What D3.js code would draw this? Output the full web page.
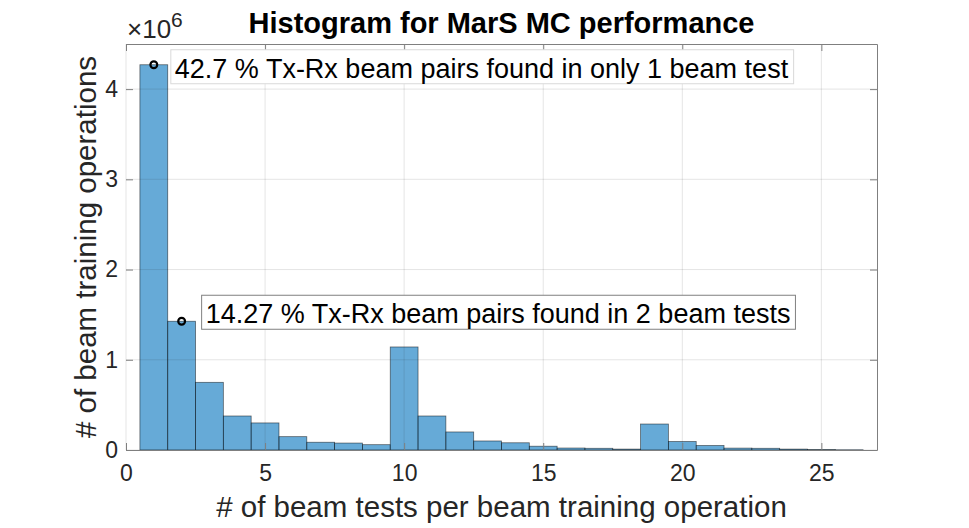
<!DOCTYPE html>
<html lang="en">
<head>
    <meta charset="UTF-8">
    <title>Histogram for MarS MC performance</title>
    <script src="https://d3js.org/d3.v7.min.js"></script>
    <style>
        body {
            margin: 0;
            background-color: white;
            font-family: "Liberation Sans", Arial, sans-serif;
        }
    </style>
</head>
<body>
    <script>
        // bin centres (beam tests per operation) and counts
        var bins = [1, 2, 3, 4, 5, 6, 7, 8, 9, 10, 11, 12, 13, 14, 15, 16, 17, 18, 19, 20, 21, 22, 23, 24, 25, 26]
        var counts = [4270000, 1427000, 750000, 377000, 300000, 148000, 86000, 77000, 59000, 1142000,
                      377000, 200000, 100000, 80000, 42000, 22000, 19000, 10000, 288000, 94000,
                      50000, 21000, 19000, 10000, 5000, 2500]
        var xTicks = [0, 5, 10, 15, 20, 25]
        var yTicks = [0, 1, 2, 3, 4]
        var noteBins = [1, 2]
        var noteTexts = ["42.7 % Tx-Rx beam pairs found in only 1 beam test",
                         "14.27 % Tx-Rx beam pairs found in 2 beam tests"]

        var width = 969
        var height = 528
        var margin = {left: 126, right: 92, top: 44, bottom: 78}
        var axisColor = "#262626"
        // where each text box sits relative to its marker
        var noteOffsets = [{dx: 21, dy: 13, border: "#d9d9d9"}, {dx: 24, dy: 2, border: "#808080"}]

        const svg = d3.select("body")
            .append("svg")
            .attr("width", width)
            .attr("height", height)

        var x = d3.scaleLinear().domain([0, 27]).range([margin.left, width - margin.right])
        var y = d3.scaleLinear().domain([0, 4.5e6]).range([height - margin.bottom, margin.top])

        // bars
        svg.selectAll(".bar")
            .data(bins)
            .enter().append("rect")
            .attr("class", "bar")
            .attr("x", function (d) { return x(d - 0.5) })
            .attr("width", function (d) { return x(d + 0.5) - x(d - 0.5) })
            .attr("y", function (d, i) { return y(counts[i]) })
            .attr("height", function (d, i) { return y(0) - y(counts[i]) })
            .attr("fill", "#0072BD")
            .attr("fill-opacity", 0.6)
            .attr("stroke", "#000")
            .attr("stroke-opacity", 0.55)
            .attr("stroke-width", 0.8)

        // grid
        svg.selectAll(".gx")
            .data(xTicks)
            .enter().append("line")
            .attr("x1", function (d) { return x(d) })
            .attr("x2", function (d) { return x(d) })
            .attr("y1", y(0))
            .attr("y2", y(4.5e6))
            .attr("stroke", axisColor)
            .attr("stroke-opacity", 0.12)
        svg.selectAll(".gy")
            .data(yTicks)
            .enter().append("line")
            .attr("x1", x(0))
            .attr("x2", x(27))
            .attr("y1", function (d) { return y(d * 1e6) })
            .attr("y2", function (d) { return y(d * 1e6) })
            .attr("stroke", axisColor)
            .attr("stroke-opacity", 0.12)

        // axes
        var yVals = yTicks.map(function (d) { return d * 1e6 })
        var xAxis = d3.axisBottom(x).tickValues(xTicks).tickSizeInner(-7).tickSizeOuter(0).tickPadding(15)
        var yAxis = d3.axisLeft(y).tickValues(yVals)
            .tickFormat(function (d) { return d / 1e6 }).tickSizeInner(-7).tickSizeOuter(0).tickPadding(8)
        var xTop = d3.axisTop(x).tickValues(xTicks).tickSizeInner(-7).tickSizeOuter(0).tickFormat("")
        var yRight = d3.axisRight(y).tickValues(yVals).tickSizeInner(-7).tickSizeOuter(0).tickFormat("")

        function styleAxis(g) {
            g.selectAll("path").attr("stroke", "#7f7f7f")
            g.selectAll("line").attr("stroke", "#7f7f7f")
            g.selectAll("text").attr("fill", axisColor).style("font-size", "23px")
                .style("font-family", "Liberation Sans, Arial, sans-serif")
        }
        svg.append("g").attr("transform", "translate(0," + y(0) + ")").call(xAxis).call(styleAxis)
        svg.append("g").attr("transform", "translate(" + x(0) + ",0)").call(yAxis).call(styleAxis)
            .select(".domain").remove()
        svg.append("g").attr("transform", "translate(0," + y(4.5e6) + ")").call(xTop).call(styleAxis)
        svg.append("g").attr("transform", "translate(" + x(27) + ",0)").call(yRight).call(styleAxis)

        // exponent
        var expo = svg.append("text")
            .attr("x", x(0) + 1)
            .attr("y", 38)
            .attr("fill", axisColor)
            .style("font-size", "26px")
        expo.append("tspan").text("\u00d710")
        expo.append("tspan").text("6").attr("dy", -11).style("font-size", "21px")

        // title
        svg.append("text")
            .text("Histogram for MarS MC performance")
            .attr("x", (x(0) + x(27)) / 2)
            .attr("y", 33)
            .attr("text-anchor", "middle")
            .style("font-size", "29px")
            .style("font-weight", "bold")

        // axis labels
        svg.append("text")
            .text("# of beam tests per beam training operation")
            .attr("x", (x(0) + x(27)) / 2)
            .attr("y", 517)
            .attr("text-anchor", "middle")
            .attr("fill", axisColor)
            .style("font-size", "29.5px")
        svg.append("text")
            .text("# of beam training operations")
            .attr("transform", "translate(96," + (y(0) + y(4.5e6)) / 2 + ") rotate(-90)")
            .attr("text-anchor", "middle")
            .attr("fill", axisColor)
            .style("font-size", "29.5px")

        // annotations: marker on the bar plus a boxed text
        noteBins.forEach(function (b, i) {
            var cx = x(b)
            var cy = y(counts[b - 1])
            var g = svg.append("g")
            var box = g.append("rect")
            var t = g.append("text")
                .text(noteTexts[i])
                .attr("x", cx + noteOffsets[i].dx)
                .attr("y", cy + noteOffsets[i].dy)
                .attr("fill", "#000")
                .style("font-size", "27px")
            var bb = t.node().getBBox()
            box.attr("x", bb.x - 4)
                .attr("y", bb.y - 4)
                .attr("width", bb.width + 9)
                .attr("height", bb.height + 4)
                .attr("fill", "white")
                .attr("stroke", noteOffsets[i].border)
            svg.append("circle")
                .attr("cx", cx)
                .attr("cy", cy)
                .attr("r", 3.4)
                .attr("fill", "none")
                .attr("stroke", "#000")
                .attr("stroke-width", 2.2)
        })
    </script>
</body>
</html>
